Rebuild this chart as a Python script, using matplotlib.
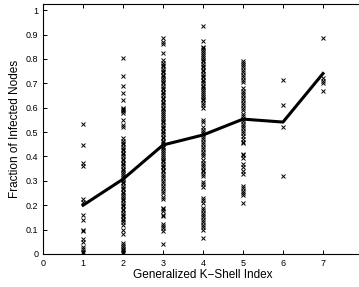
import matplotlib
matplotlib.use("Agg")
import matplotlib.pyplot as plt
from matplotlib.ticker import FormatStrFormatter

plt.rcParams['font.family'] = ['Liberation Sans', 'DejaVu Sans']

# fraction of infected nodes per generalized k-shell index
k1 = [0.535, 0.445, 0.375, 0.36, 0.225, 0.215, 0.16, 0.14, 0.10, 0.095,
      0.06, 0.05, 0.03, 0.02, 0.01, 0.005]
k2 = [0.805, 0.73, 0.69, 0.66, 0.63, 0.60, 0.595, 0.59, 0.585, 0.58, 0.55,
      0.53, 0.52, 0.475, 0.465, 0.455, 0.45, 0.44, 0.43, 0.425, 0.415, 0.41,
      0.40, 0.39, 0.385, 0.375, 0.37, 0.36, 0.35, 0.345, 0.335, 0.33, 0.32,
      0.31, 0.305, 0.295, 0.29, 0.28, 0.27, 0.265, 0.255, 0.25, 0.24, 0.235,
      0.225, 0.22, 0.21, 0.20, 0.195, 0.185, 0.18, 0.17, 0.16, 0.155, 0.145,
      0.14, 0.13, 0.12, 0.10, 0.08, 0.045, 0.035, 0.03, 0.02, 0.015, 0.01,
      0.005]
k3 = [0.885, 0.87, 0.86, 0.825, 0.795, 0.785, 0.775, 0.77, 0.76, 0.75,
      0.745, 0.735, 0.73, 0.72, 0.715, 0.705, 0.70, 0.69, 0.68, 0.675, 0.665,
      0.66, 0.65, 0.64, 0.635, 0.625, 0.62, 0.61, 0.60, 0.595, 0.585, 0.58,
      0.57, 0.56, 0.555, 0.545, 0.54, 0.53, 0.52, 0.515, 0.505, 0.50, 0.49,
      0.48, 0.475, 0.465, 0.46, 0.45, 0.44, 0.435, 0.425, 0.42, 0.41, 0.40,
      0.395, 0.385, 0.38, 0.37, 0.36, 0.355, 0.345, 0.34, 0.33, 0.32, 0.31,
      0.30, 0.29, 0.28, 0.27, 0.26, 0.25, 0.235, 0.225, 0.19, 0.185, 0.175,
      0.16, 0.155, 0.125, 0.115, 0.105, 0.095, 0.04]
k4 = [0.935, 0.875, 0.85, 0.845, 0.835, 0.83, 0.82, 0.81, 0.805, 0.795,
      0.79, 0.78, 0.77, 0.765, 0.755, 0.75, 0.74, 0.73, 0.725, 0.715, 0.71,
      0.70, 0.69, 0.685, 0.675, 0.67, 0.66, 0.65, 0.645, 0.635, 0.63, 0.62,
      0.61, 0.60, 0.55, 0.54, 0.52, 0.51, 0.50, 0.49, 0.48, 0.47, 0.46, 0.45,
      0.44, 0.43, 0.42, 0.41, 0.40, 0.385, 0.375, 0.365, 0.355, 0.345, 0.34,
      0.33, 0.32, 0.295, 0.285, 0.275, 0.23, 0.22, 0.21, 0.19, 0.18, 0.17,
      0.16, 0.15, 0.14, 0.13, 0.12, 0.11, 0.10, 0.065]
k5 = [0.79, 0.785, 0.775, 0.765, 0.755, 0.745, 0.735, 0.725, 0.715, 0.705,
      0.68, 0.67, 0.66, 0.65, 0.64, 0.63, 0.62, 0.61, 0.60, 0.59, 0.575,
      0.565, 0.555, 0.545, 0.535, 0.525, 0.515, 0.505, 0.495, 0.485, 0.47,
      0.46, 0.455, 0.41, 0.405, 0.395, 0.37, 0.355, 0.34, 0.33, 0.28, 0.27,
      0.26, 0.25, 0.24, 0.21]
k6 = [0.715, 0.61, 0.52, 0.32]
k7 = [0.885, 0.72, 0.71, 0.70, 0.668]

shells = [1, 2, 3, 4, 5, 6, 7]
columns = [k1, k2, k3, k4, k5, k6, k7]
means = [0.20, 0.307, 0.447, 0.488, 0.553, 0.541, 0.74]

fig = plt.figure(figsize=(3.59, 2.87), dpi=100)
# right edge of the axes runs past the figure, as in the cropped original
ax = fig.add_axes([0.12, 0.115, 0.891, 0.871])

for k, vals in zip(shells, columns):
    ax.plot([k] * len(vals), vals, 'x', color='black', ms=3.5, mew=0.7)

ax.plot(shells, means, '-', color='black', lw=2.2)

ax.set_xlim(0, 8)
ax.set_ylim(0, 1.025)
ax.set_xticks(range(0, 8))
ax.set_yticks([i / 10 for i in range(11)])
ax.yaxis.set_major_formatter(FormatStrFormatter('%g'))
ax.tick_params(direction='in', top=True, right=True, labelsize=6.5,
               length=3, width=0.7)
for s in ax.spines.values():
    s.set_linewidth(0.8)

ax.set_xlabel('Generalized K\u2212Shell Index', fontsize=8.5, labelpad=1)
ax.set_ylabel('Fraction of Infected Nodes', fontsize=8.5, labelpad=3)

fig.savefig('out.png', dpi=100)
